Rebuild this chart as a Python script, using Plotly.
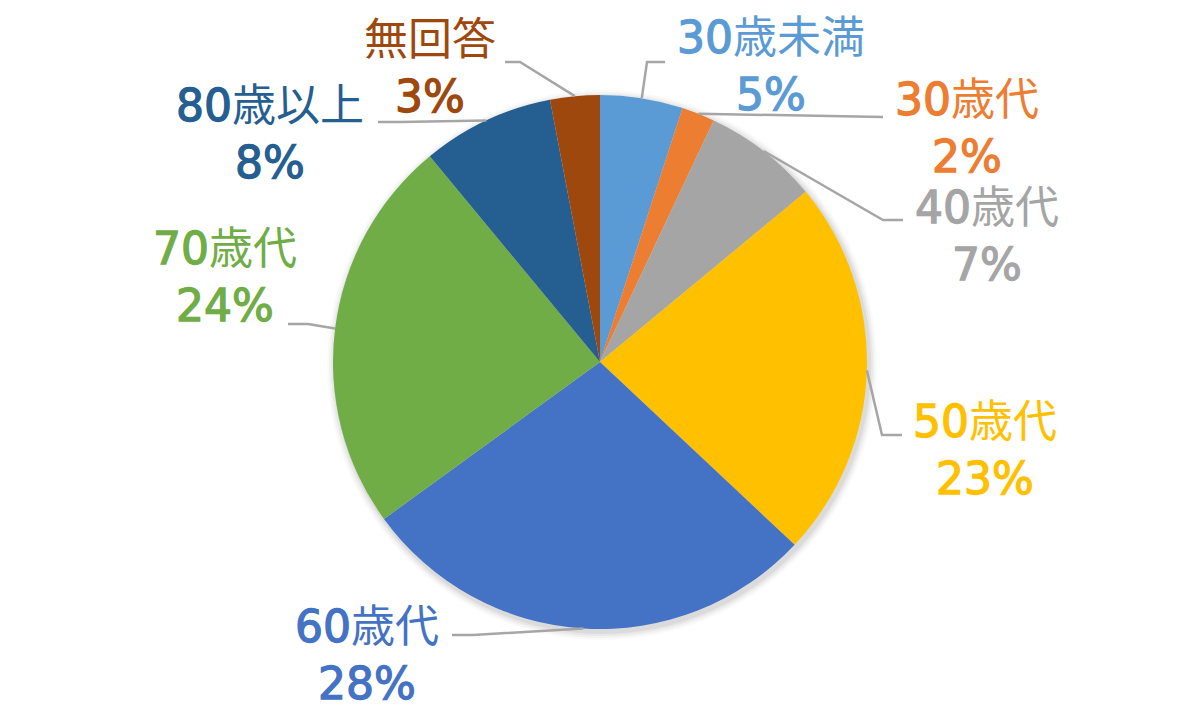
import math
import plotly.graph_objects as go

# data
labels = ['30歳未満', '30歳代', '40歳代', '50歳代', '60歳代', '70歳代', '80歳以上', '無回答']
values = [5, 2, 7, 23, 28, 24, 8, 3]
colors = ['#5B9BD5', '#ED7D31', '#A5A5A5', '#FFC000', '#4472C4', '#70AD47', '#255E91', '#9E480E']

# layout (pixels in the 1200x722 page)
W, H = 1200, 722
cx, cy, r = 600, 362, 267
label_pos = [(771, 66), (967, 128), (987, 236), (985, 450),
             (367, 655), (225, 277), (270, 134), (430, 68)]
# leader line elbow and end points
elbows = [(647, 62), (883, 117), (883, 220), (882, 435),
          (473, 635), (308, 324), (400, 122), (520, 62)]
ends = [(665, 62), (883, 117), (903, 220), (902, 435),
        (452, 635), (288, 324), (378, 122), (505, 62)]

def px(x):
    return x / W

def py(y):
    return 1 - y / H

def heavy_digits(s, color):
    # digits and % a bit heavier, kanji stays regular (like the Excel labels)
    st = '<span style="stroke:%s;stroke-width:1.3px">' % color
    out, buf = '', ''
    for ch in s:
        if ch.isdigit() or ch == '%':
            buf += ch
        else:
            if buf:
                out += st + buf + '</span>'
                buf = ''
            out += ch
    if buf:
        out += st + buf + '</span>'
    return out

fig = go.Figure(go.Pie(
    labels=labels, values=values, sort=False, direction='clockwise', rotation=0,
    marker=dict(colors=colors, line=dict(width=0)),
    textinfo='none', hoverinfo='label+percent', showlegend=False,
    domain=dict(x=[px(cx - r), px(cx + r)], y=[py(cy + r), py(cy - r)]),
))

shapes = []
# soft shadow behind the pie
for i, op in enumerate([0.05, 0.04, 0.03, 0.02]):
    d = 2 + i * 2
    shapes.append(dict(type='circle', xref='paper', yref='paper', layer='below',
                       x0=px(cx - r - d + 2), x1=px(cx + r + d + 2),
                       y0=py(cy + r + d + 3), y1=py(cy - r - d + 3),
                       fillcolor='rgba(0,0,0,%s)' % op, line=dict(width=0)))

total = sum(values)
acc = 0
annotations = []
for i, v in enumerate(values):
    mid = (acc + v / 2) / total * 2 * math.pi
    acc += v
    sx = cx + r * math.sin(mid)
    sy = cy - r * math.cos(mid)
    ex, ey = elbows[i]
    fx, fy = ends[i]
    shapes.append(dict(type='path', xref='paper', yref='paper',
                       path='M %f,%f L %f,%f L %f,%f' % (px(sx), py(sy), px(ex), py(ey), px(fx), py(fy)),
                       line=dict(color='#A6A6A6', width=2.5)))
    lx, ly = label_pos[i]
    annotations.append(dict(x=px(lx), y=py(ly), xref='paper', yref='paper',
                            text=heavy_digits(labels[i], colors[i]) + '<br>'
                                 + heavy_digits('%d%%' % v, colors[i]),
                            showarrow=False,
                            align='center', xanchor='center', yanchor='middle',
                            font=dict(size=44, color=colors[i],
                                      family='DejaVu Sans, Noto Sans CJK JP')))

fig.update_layout(
    width=W, height=H,
    margin=dict(l=0, r=0, t=0, b=0),
    paper_bgcolor='white', plot_bgcolor='white',
    shapes=shapes, annotations=annotations,
)

fig.write_html('out.html', config={'displayModeBar': False},
               post_script="document.body.style.margin='0';")
